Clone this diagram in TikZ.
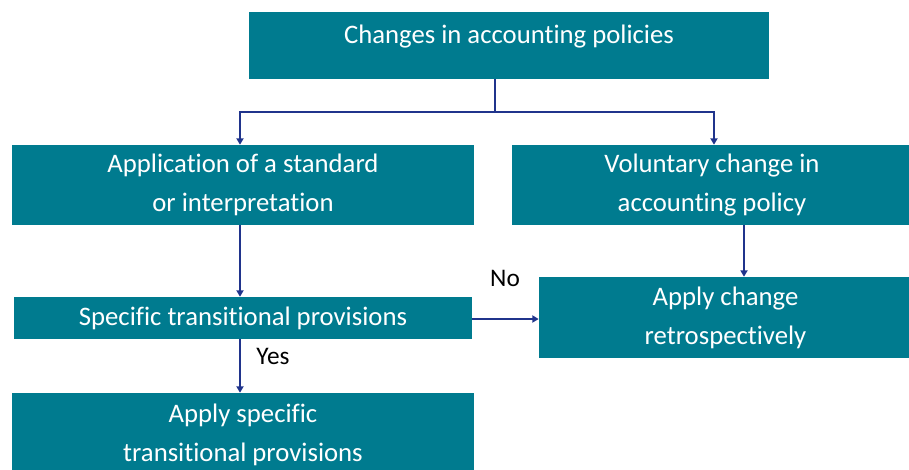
\documentclass[tikz,border=0pt]{standalone}
\usepackage{fontspec}
\setmainfont{Carlito}[Ligatures=NoCommon]
\usetikzlibrary{arrows.meta,positioning}
\definecolor{BoxTeal}{RGB}{0,123,143}
\definecolor{LinkBlue}{RGB}{32,52,140}

\begin{document}
\begin{tikzpicture}[
    x=0.025cm, y=-0.025cm,
    box/.style={draw=none, rectangle, fill=BoxTeal, text=white, inner sep=0pt, align=center, font=\fontsize{19}{27.7}\selectfont},
    arrow/.style={-{Triangle[width=5pt,length=4.5pt]}, draw=LinkBlue, line width=1.4pt},
    answer/.style={font=\fontsize{18}{22}\selectfont}
  ]
    \useasboundingbox (0,0) rectangle (909,469);

    % Top level
    \node[box, minimum width=13cm, minimum height=1.675cm, text height=0.5cm, text depth=0.6cm] (policies) at (509,45.5) {Changes in accounting policies};

    % Second level
    \node[box, minimum width=11.55cm, minimum height=2cm] (standard) at (243,185) {Application of a standard\\or interpretation};
    \node[box, minimum width=10cm, minimum height=2cm] (voluntary) at (712,185) {Voluntary change in\\accounting policy};

    % Third level
    \node[box, minimum width=11.45cm, minimum height=1.05cm] (provisions) at (243,318) {Specific transitional provisions};
    \node[box, minimum width=9.325cm, minimum height=2.025cm] (retro) at (725.5,317.5) {Apply change\\retrospectively};

    % Bottom level
    \node[box, minimum width=11.55cm, minimum height=2.1cm] (applyspec) at (243,435) {Apply specific\\transitional provisions};

    \coordinate (fork) at (495,112);
    \draw[arrow] (policies.south -| fork) -- (fork) -| ([xshift=-0.075cm]standard.north);
    \draw[arrow] (fork) -| ([xshift=0.05cm]voluntary.north);

    \draw[arrow] ([xshift=-0.075cm]standard.south) -- ([xshift=-0.075cm]provisions.north);
    \draw[arrow] ([xshift=0.8cm]voluntary.south) -- ([xshift=0.8cm]voluntary.south |- retro.north);
    \draw[arrow] ([yshift=-0.025cm]provisions.east) -- ([yshift=-0.025cm]provisions.east -| retro.west);
    \draw[arrow] ([xshift=-0.075cm]provisions.south) -- ([xshift=-0.075cm]applyspec.north);

    \node[answer] (no) at (505,278) {No};
    \node[answer] (yes) at (273,356) {Yes};
  \end{tikzpicture}
\end{document}
